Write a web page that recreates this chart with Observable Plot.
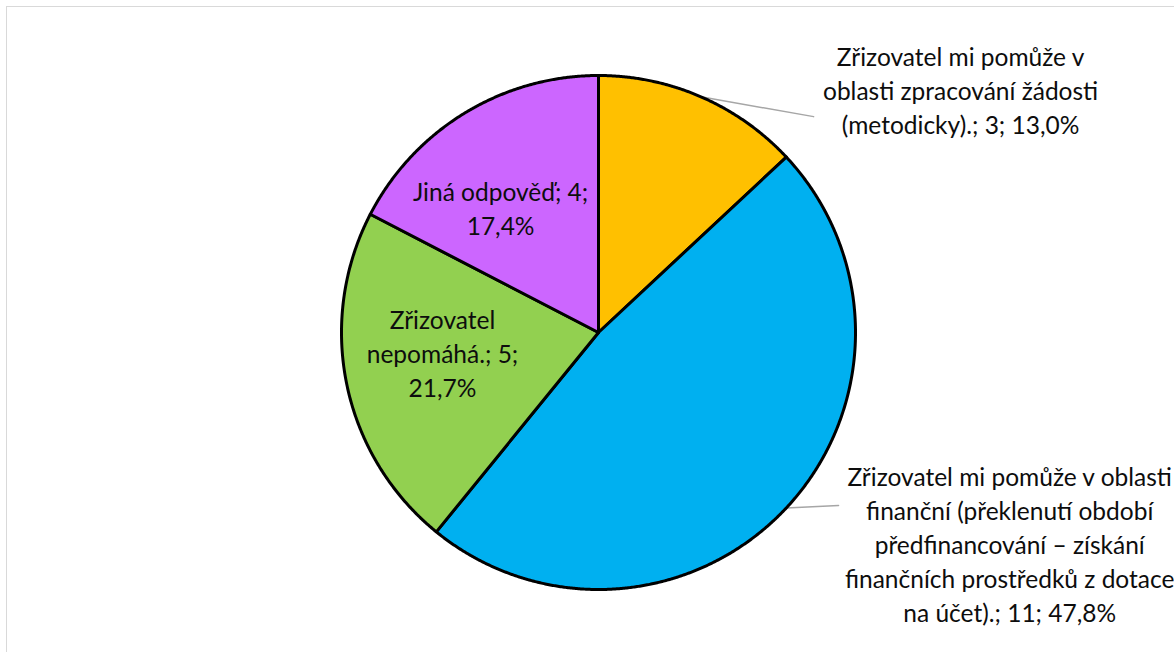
<!DOCTYPE html>
<html><head><meta charset="utf-8">
<script src="https://cdn.jsdelivr.net/npm/d3@7"></script>
<script src="https://cdn.jsdelivr.net/npm/@observablehq/plot@0.6"></script>
<style>
html,body{margin:0;padding:0;background:#fff;overflow:hidden}
#wrap{position:relative;width:1174px;height:652px;overflow:hidden}
#frame{position:absolute;left:6px;top:6px;width:1300px;height:800px;border:1.5px solid #d9d9d9}
#chart{position:absolute;left:0;top:0}
</style></head><body><div id="wrap"><div id="frame"></div><div id="chart"></div></div>
<script>
// ---- data ----
const categories = [
  "Zřizovatel mi pomůže v oblasti zpracování žádosti (metodicky).",
  "Zřizovatel mi pomůže v oblasti finanční (překlenutí období předfinancování – získání finančních prostředků z dotace na účet).",
  "Zřizovatel nepomáhá.",
  "Jiná odpověď"
];
const counts = [3, 11, 5, 4];
const colors = ["#FFC000", "#00B0F0", "#92D050", "#CC66FF"];
// wrapped label text (line breaks as in the original)
const labelLines = [
  ["Zřizovatel mi pomůže v", "oblasti zpracování žádosti", "(metodicky).;"],
  ["Zřizovatel mi pomůže v oblasti", "finanční (překlenutí období", "předfinancování – získání", "finančních prostředků z dotace", "na účet).;"],
  ["Zřizovatel", "nepomáhá.;"],
  ["Jiná odpověď;"]
];

// ---- layout (pie units: radius = 1) ----
const W = 1174, H = 652, R = 257, CX = 598, CY = 332;
const labelPos = [[1.409, -0.946], [1.60, 0.82], [-0.607, 0.078], [-0.381, -0.486]];
const leaderEnd = [[0.837, -0.840], [0.934, 0.673], null, null];
const fontSize = 24.5, lineH = 34;

const total = d3.sum(counts);
const pct = counts.map(c => (c / total * 100).toFixed(1).replace(".", ",") + "%");
const labels = categories.map((c, i) => {
  const lines = labelLines[i].slice();
  const last = lines.length - 1;
  if (i >= 2) { lines[last] = lines[last] + " " + counts[i] + ";"; lines.push(pct[i]); }
  else { lines[last] = lines[last] + " " + counts[i] + "; " + pct[i]; }
  return lines.join("\n");
});

const arcs = d3.pie().sort(null).value(d => d)(counts);
const pt = (a, r) => [r * Math.sin(a), -r * Math.cos(a)];
const polys = [];
arcs.forEach((a, i) => {
  polys.push({cat: categories[i], x: 0, y: 0});
  const n = Math.max(8, Math.ceil((a.endAngle - a.startAngle) / 0.005));
  for (let k = 0; k <= n; k++) {
    const ang = a.startAngle + (a.endAngle - a.startAngle) * k / n;
    const [x, y] = pt(ang, 1);
    polys.push({cat: categories[i], x, y});
  }
});
const leaders = [];
arcs.forEach((a, i) => {
  if (!leaderEnd[i]) return;
  const mid = (a.startAngle + a.endAngle) / 2;
  const [x0, y0] = pt(mid, 1);
  leaders.push({id: i, x: x0, y: y0});
  leaders.push({id: i, x: leaderEnd[i][0], y: leaderEnd[i][1]});
});
const labelData = labels.map((t, i) => ({t, x: labelPos[i][0], y: labelPos[i][1]}));

const chart = Plot.plot({
  width: W, height: H, margin: 0,
  style: {background: "transparent", overflow: "visible"},
  x: {domain: [-CX / R, (W - CX) / R], range: [0, W], axis: null},
  y: {domain: [-CY / R, (H - CY) / R], range: [0, H], axis: null},
  color: {domain: categories, range: colors},
  marks: [
    Plot.line(leaders, {x: "x", y: "y", z: "id", stroke: "#a6a6a6", strokeWidth: 1.5}),
    Plot.line(polys, {x: "x", y: "y", z: "cat", fill: "cat", stroke: "#000", strokeWidth: 3,
      strokeLinejoin: "round", curve: "linear-closed"}),
    Plot.text(labelData, {x: "x", y: "y", text: "t", fontSize, lineHeight: lineH / fontSize,
      textAnchor: "middle", lineAnchor: "middle", fill: "#0d0d0d",
      fontFamily: "Lato, 'Open Sans', sans-serif"})
  ]
});
document.getElementById("chart").appendChild(chart);
</script></body></html>
